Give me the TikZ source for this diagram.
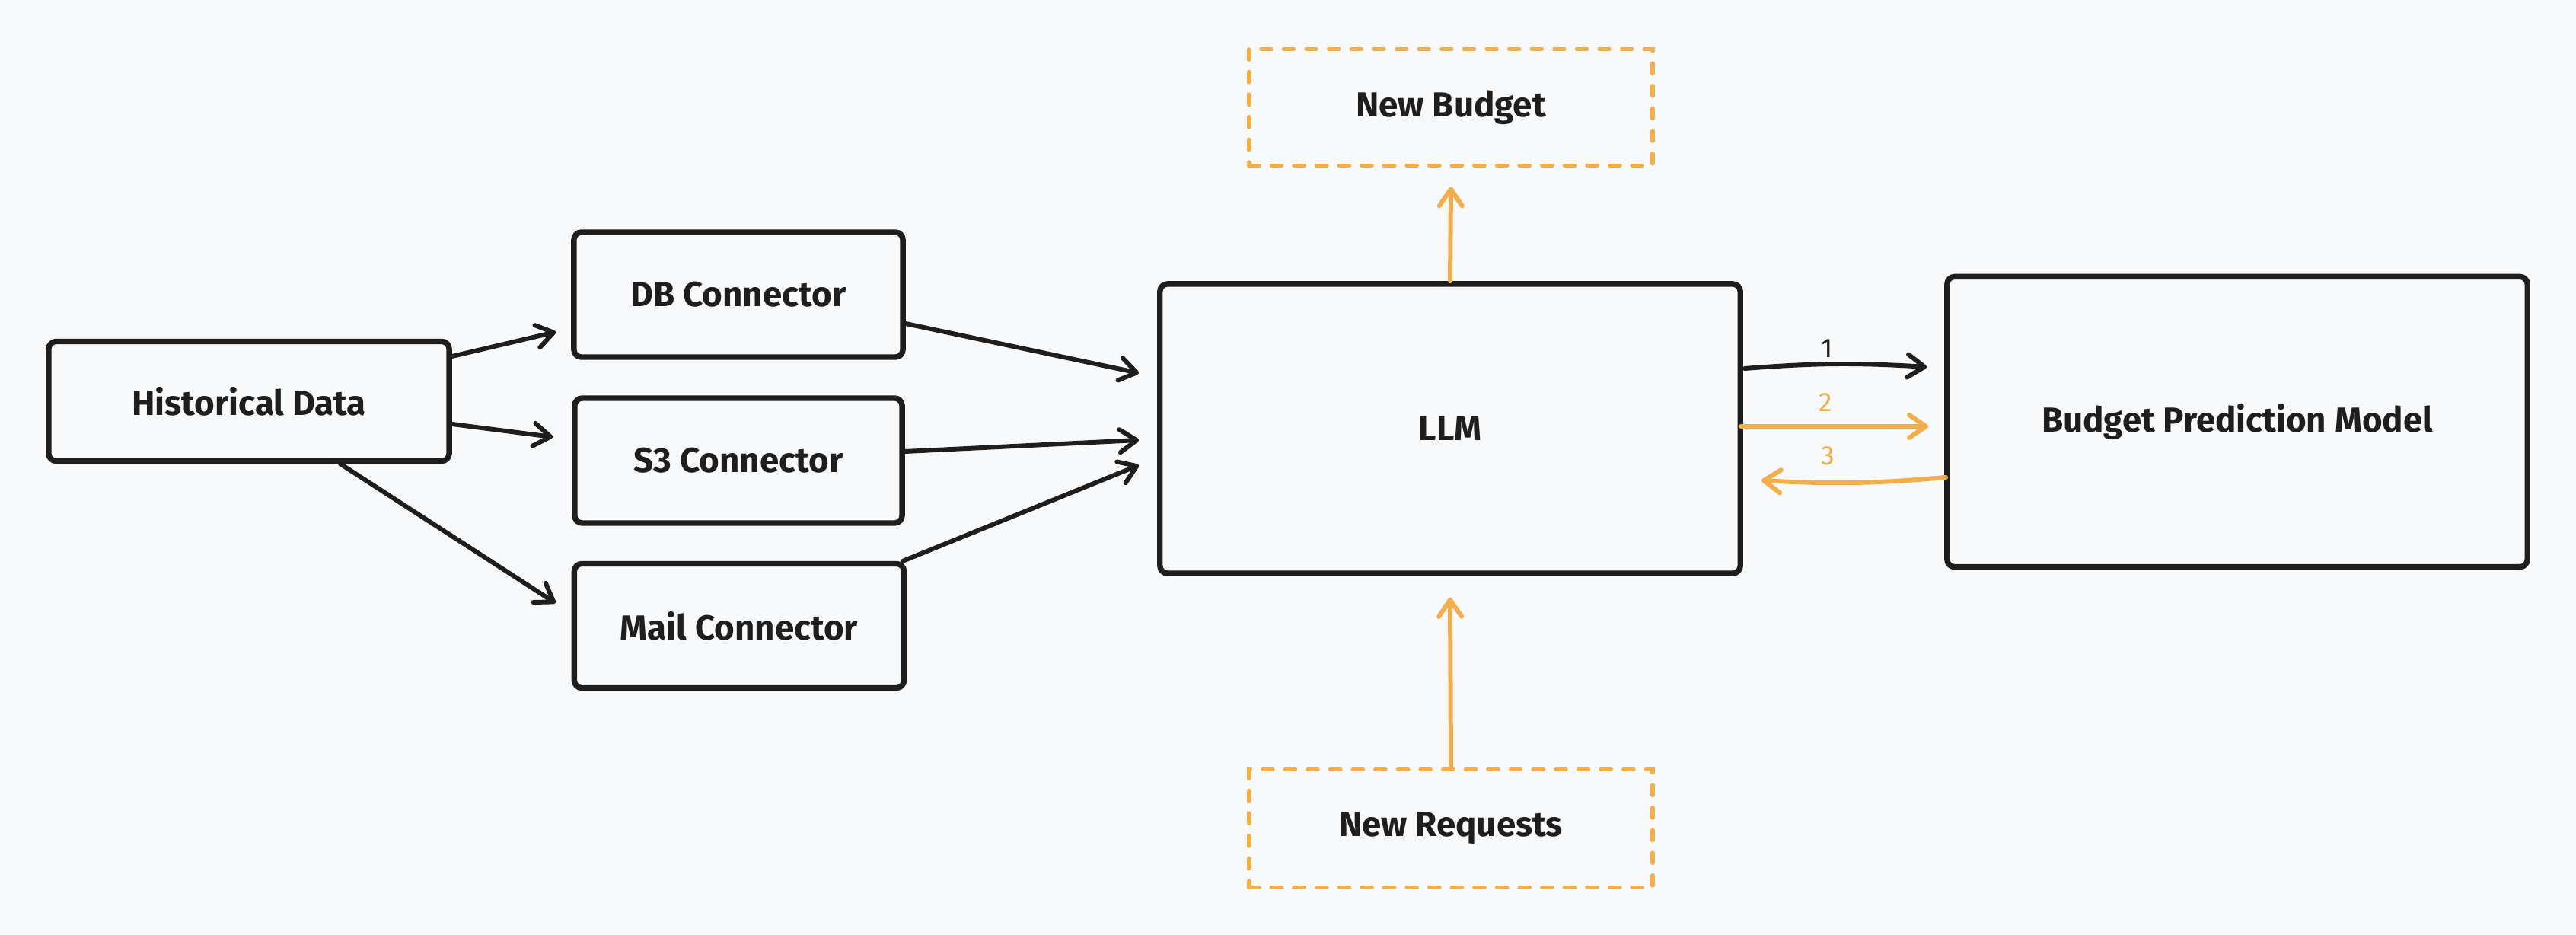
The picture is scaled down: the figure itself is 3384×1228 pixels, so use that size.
\documentclass[tikz,border=0pt]{standalone}
\usepackage{fontspec}
\setmainfont{Fira Sans}
\usetikzlibrary{arrows.meta,calc}
\definecolor{ink}{HTML}{1E1E1E}
\definecolor{orng}{HTML}{F2AE4B}
\definecolor{bgc}{HTML}{F8F9FA}
\tikzset{
  box/.style={draw=ink, line width=2.1pt, rounded corners=0.1cm, text=ink, font=\fontsize{13}{15}\selectfont\bfseries, align=center, inner sep=0pt},
  dbox/.style={draw=orng, line width=1.6pt, line cap=round, dash pattern=on 0.13cm off 0.166cm, text=ink, font=\fontsize{13}{15}\selectfont\bfseries, inner sep=0pt},
  arr/.style={draw=ink, line width=1.7pt, line cap=round, -{Straight Barb[length=0.22cm,width=0.3cm,line cap=round,line join=round]}},
  oarr/.style={arr, draw=orng},
  numlbl/.style={font=\fontsize{10}{12}\selectfont, inner sep=0pt}
}
\begin{document}
\begin{tikzpicture}[x=0.01cm,y=-0.01cm]
\fill[bgc] (0,0) rectangle (3384,1228);
\useasboundingbox (0,0) rectangle (3384,1228);

\node[box, minimum width=5.26cm, minimum height=1.57cm] (hist) at (327,527) {Historical Data};
\node[box, minimum width=4.32cm, minimum height=1.64cm] (db) at (970,387) {DB Connector};
\node[box, minimum width=4.30cm, minimum height=1.64cm] (s3) at (970,605) {S3 Connector};
\node[box, minimum width=4.33cm, minimum height=1.63cm] (mail) at (971,822) {Mail Connector};
\node[box, minimum width=7.62cm, minimum height=3.80cm] (llm) at (1905,563) {LLM};
\node[box, minimum width=7.62cm, minimum height=3.81cm] (bpm) at (2939,554) {Budget Prediction Model};
\node[dbox, minimum width=5.30cm, minimum height=1.53cm] (nb) at (1906,141) {New Budget};
\node[dbox, minimum width=5.30cm, minimum height=1.55cm] (nr) at (1906,1088) {New Requests};

\draw[arr] ($(hist.east)+(0,-59)$) -- ($(db.west)+(-20,49)$);
\draw[arr] ($(hist.east)+(0,30)$) -- ($(s3.west)+(-25,-31)$);
\draw[arr] ($(hist.south)+(120,0)$) -- ($(mail.west)+(-21,-30)$);

\draw[arr] ($(db.east)+(0,38)$) -- ($(llm.west)+(-24,-73)$);
\draw[arr] ($(s3.east)+(0,-12)$) -- ($(llm.west)+(-24,15)$);
\draw[arr] ($(mail.north east)+(-5,0)$) -- ($(llm.west)+(-24,48)$);

\draw[arr] ($(llm.east)+(2,-79)$) to[bend left=4] node[pos=0.45, numlbl, text=ink, above=0.06cm] (l1) {1} ($(bpm.west)+(-23,-72)$);
\draw[oarr] ($(llm.east)+(-3,-3)$) -- node[pos=0.45, numlbl, text=orng, above=0.16cm] (l2) {2} ($(bpm.west)+(-21,6)$);
\draw[oarr] ($(bpm.west)+(2,73)$) to[bend left=4] node[pos=0.65, numlbl, text=orng, above=0.2cm] (l3) {3} ($(llm.east)+(24,68)$);

\draw[oarr] (llm.north) -- ($(nb.south)+(0,25)$);
\draw[oarr] (nr.north) -- ($(llm.south)+(0,28)$);
\end{tikzpicture}
\end{document}
